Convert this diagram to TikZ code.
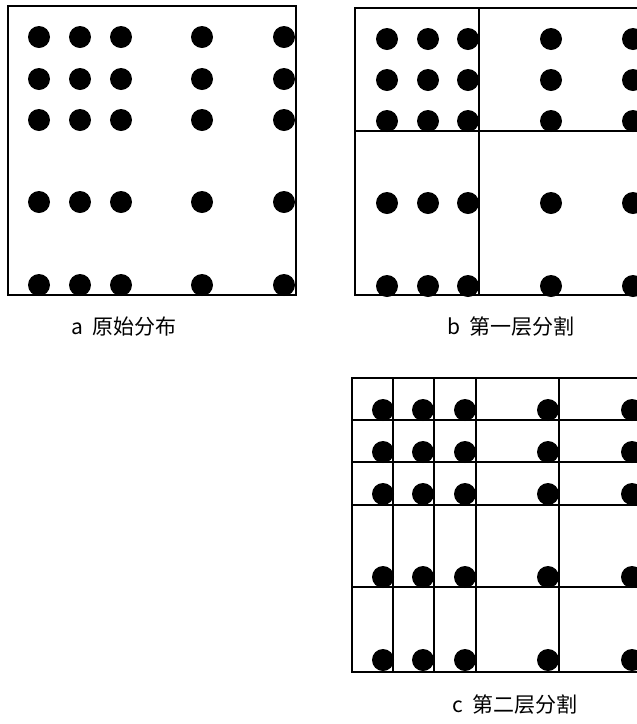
\documentclass[tikz,border=0pt]{standalone}
\usepackage{fontspec}
\newfontfamily\cjk{Noto Sans CJK SC}
\begin{document}
\begin{tikzpicture}[x=1pt,y=-1pt,
  frame/.style={line width=2.8pt},
  divider/.style={line width=2pt},
  cell/.style={line width=1.8pt},
  caption/.style={anchor=center,inner sep=0pt,font=\cjk\fontsize{21}{23}\selectfont}]
\useasboundingbox (0,0) rectangle (637,724);
\begin{scope}
\clip (0,0) rectangle (637,724);
% panel a
\foreach \x in {39,80,121,202,284}
  \foreach \y in {37,79,120,202,285}
    \fill (\x,\y) circle (11);
\draw[frame] (8,6) rectangle (296,295);
% panel b
\foreach \x in {387,428,468,551,633}
  \foreach \y in {39,80,121,203,286}
    \fill (\x,\y) circle (11);
\draw[divider] (479,8) -- (479,295);
\draw[divider] (355,131) -- (650,131);
\draw[frame] (355,8) rectangle (650,295);
% panel c
\foreach \x in {383,423,465,548,632}
  \foreach \y in {410,452,494,577,660}
    \fill (\x,\y) circle (11);
\foreach \x in {393,434,476,559}
  \draw[cell] (\x,378) -- (\x,672);
\foreach \y in {420,462,505,587}
  \draw[cell] (352,\y) -- (650,\y);
\draw[frame] (352,378) rectangle (650,672);
\end{scope}
% captions
\node[caption] (capa) at (124,327) {a\hspace{10pt}原始分布};
\node[caption] (capb) at (511,327) {b\hspace{10pt}第一层分割};
\node[caption] (capc) at (515,705) {c\hspace{10pt}第二层分割};
\end{tikzpicture}
\end{document}
